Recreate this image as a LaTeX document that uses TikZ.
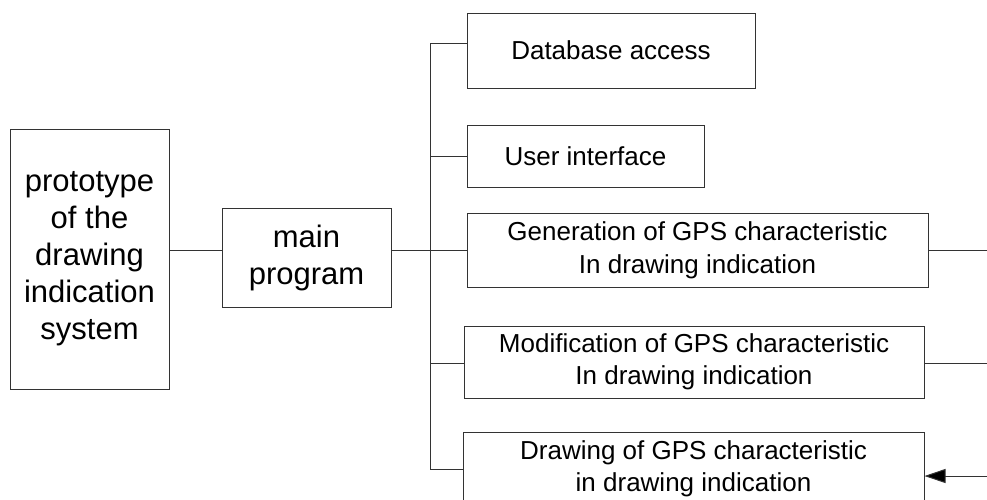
\documentclass[tikz,border=0pt]{standalone}
\usepackage{fontspec}
\setmainfont{Liberation Sans}
\usetikzlibrary{arrows.meta}

\tikzset{
  box/.style={draw=black!80, line width=1pt, align=center, inner sep=0pt,
    font=\fontsize{26}{32.5}\selectfont},
  bigbox/.style={box, font=\fontsize{31}{37}\selectfont},
  wire/.style={draw=black!80, line width=1pt}
}

\begin{document}
\begin{tikzpicture}[x=1pt, y=-1pt]
    \useasboundingbox (0,0) rectangle (987,499);
    \clip (0,0) rectangle (987,499);

    % 1. Blocchi a sinistra
    \node[bigbox, minimum width=159pt, minimum height=260pt] (proto) at (89.5, 259)
        {prototype\\of the\\drawing\\indication\\system};
    \node[bigbox, minimum width=169pt, minimum height=99pt] (mainprog) at (306.5, 257.5)
        {main\\program};

    % 2. Moduli a destra
    \node[box, minimum width=288pt, minimum height=75pt] (db) at (611, 50.5) {Database access};
    \node[box, minimum width=237pt, minimum height=62pt] (ui) at (585.5, 156) {User interface};
    \node[box, minimum width=461pt, minimum height=74pt] (gen) at (697.5, 250.5)
        {Generation of GPS characteristic\\In drawing indication};
    \node[box, minimum width=460pt, minimum height=72pt] (mod) at (694, 362)
        {Modification of GPS characteristic\\In drawing indication};
    \node[box, minimum width=461pt, minimum height=74pt] (drw) at (693.5, 469)
        {Drawing of GPS characteristic\\in drawing indication};

    % 3. Punti del bus e estremi liberi
    \coordinate (j) at (430, 250.5);
    \coordinate (btop) at (430, 43);
    \coordinate (bbot) at (430, 469);
    \coordinate (genR) at (987, 250.5);
    \coordinate (modR) at (987, 363);
    \coordinate (drwR) at (987, 476);

    % 4. Collegamenti
    \draw[wire] (proto.east |- j) -- (mainprog.west |- j);
    \draw[wire] (mainprog.east |- j) -- (j);
    \draw[wire] (btop) -- (bbot);
    \draw[wire] (btop) -- (db.west |- btop);
    \draw[wire] (430, 156) -- (ui.west);
    \draw[wire] (j) -- (gen.west);
    \draw[wire] (430, 363) -- (mod.west |- modR);
    \draw[wire] (bbot) -- (drw.west |- bbot);

    % 5. Linee verso destra
    \draw[wire] (gen.east) -- (genR);
    \draw[wire] (mod.east |- modR) -- (modR);
    \draw[wire, -{Triangle[length=21pt, width=14pt, fill=black]}] (drwR) -- (drw.east |- drwR);

\end{tikzpicture}
\end{document}
